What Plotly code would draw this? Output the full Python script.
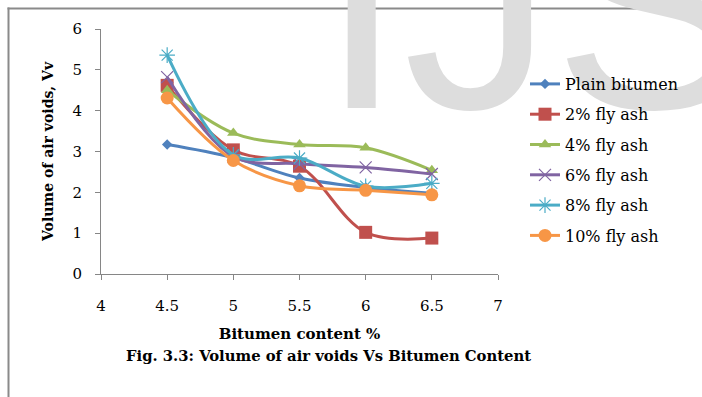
import plotly.graph_objects as go

# ---- data ----
bitumen = [4.5, 5, 5.5, 6, 6.5]
series_names = ["Plain bitumen", "2% fly ash", "4% fly ash", "6% fly ash", "8% fly ash", "10% fly ash"]
plain = [3.17, 2.85, 2.35, 2.12, 1.98]
fa2 = [4.62, 3.04, 2.64, 1.02, 0.88]
fa4 = [4.50, 3.45, 3.17, 3.09, 2.54]
fa6 = [4.82, 2.88, 2.70, 2.61, 2.45]
fa8 = [5.36, 2.92, 2.84, 2.15, 2.22]
fa10 = [4.31, 2.78, 2.16, 2.05, 1.94]
x_ticks = [4, 4.5, 5, 5.5, 6, 6.5, 7]
y_ticks = [0, 1, 2, 3, 4, 5, 6]

values = [plain, fa2, fa4, fa6, fa8, fa10]
colors = ["#4F81BD", "#C0504D", "#9BBB59", "#8064A2", "#4BACC6", "#F79646"]
symbols = ["diamond", "square", "triangle-up", "x-thin-open", "asterisk-open", "circle"]
msizes = [8, 13, 11, 12, 13, 13]

W, H = 702, 397
L, R, T, B = 101, 204, 29, 123
pw, ph = W - L - R, H - T - B


def px2x(p):
    return (p - L) / pw


def py2y(p):
    return (H - B - p) / ph


serif = "DejaVu Serif"

fig = go.Figure()

# watermark (background text), anchored at its lower-left inside the plot area
fig.add_trace(go.Scatter(
    x=[px2x(320)], y=[py2y(183)], xaxis="x2", yaxis="y2",
    mode="text", text=["IJS"], textposition="top right",
    textfont=dict(family="Liberation Sans", size=300, color="#DDDDDD"),
    cliponaxis=False, showlegend=False, hoverinfo="skip"))

for i, (name, vals) in enumerate(zip(series_names, values)):
    open_sym = symbols[i].endswith("open")
    fig.add_trace(go.Scatter(
        x=bitumen, y=vals, name=name, mode="lines+markers",
        legendgroup=f"g{i}",
        line=dict(color=colors[i], width=3, shape="spline", smoothing=1.0),
        marker=dict(symbol=symbols[i], size=msizes[i], color=colors[i],
                    line=dict(color=colors[i], width=1.2 if open_sym else 0)),
        cliponaxis=False))

fig.update_layout(
    width=W, height=H,
    margin=dict(l=L, r=R, t=T, b=B, autoexpand=False),
    paper_bgcolor="white", plot_bgcolor="white",
    font=dict(family=serif, size=15, color="black"),
    showlegend=True,
    legend=dict(x=px2x(525), y=py2y(67), xanchor="left", yanchor="top",
                font=dict(family=serif, size=16, color="black"),
                tracegroupgap=6.5, bgcolor="rgba(0,0,0,0)"),
    xaxis=dict(range=[4, 7], tickvals=x_ticks, ticktext=[f"{v:g}" for v in x_ticks],
               showgrid=False, zeroline=False, showline=True, linecolor="#868686",
               linewidth=1, ticks="outside", ticklen=5, tickcolor="#868686",
               ticklabelstandoff=13,
               title=dict(text="<b>Bitumen content %</b>", font=dict(family=serif, size=15),
                          standoff=14)),
    yaxis=dict(range=[0, 6], tickvals=y_ticks, showgrid=False, zeroline=False,
               showline=True, linecolor="#868686", linewidth=1, ticks="outside",
               ticklen=5, tickcolor="#868686", ticklabelstandoff=10,
               title=dict(text="<b>Volume of air voids, Vv</b>", font=dict(family=serif, size=14),
                          standoff=15)),
    xaxis2=dict(overlaying="x", range=[0, 1], visible=False),
    yaxis2=dict(overlaying="y", range=[0, 1], visible=False),
    annotations=[
        dict(text="<b>Fig. 3.3: Volume of air voids Vs Bitumen Content</b>",
             xref="paper", yref="paper", x=px2x(328), y=py2y(355),
             xanchor="center", yanchor="middle", showarrow=False,
             font=dict(family=serif, size=14.8, color="black")),
    ],
    shapes=[
        # page frame: top edge (pixel-sized, anchored to the plot top) and left edge
        dict(type="rect", xref="paper", yref="paper", xsizemode="scaled",
             ysizemode="pixel", yanchor=1, y0=T - 9.5, y1=T - 7.5,
             x0=px2x(7.5), x1=px2x(W), fillcolor="#8A8A8A", line=dict(width=0),
             layer="below"),
        dict(type="rect", xref="paper", yref="paper", x0=px2x(7.5), x1=px2x(9.5),
             y0=py2y(7.5), y1=py2y(H + 5), fillcolor="#8A8A8A", line=dict(width=0),
             layer="above"),
    ],
)

fig.write_html("out.html", config={"displayModeBar": False})
